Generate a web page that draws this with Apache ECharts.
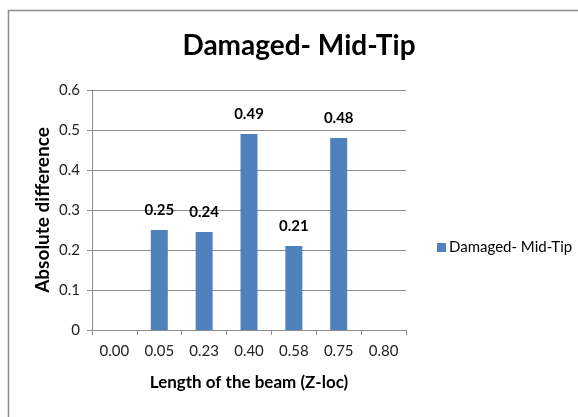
<!DOCTYPE html>
<html>
<head>
<meta charset="utf-8">
<script src="https://cdn.jsdelivr.net/npm/echarts@6/dist/echarts.min.js"></script>
<style>
  html, body { margin: 0; padding: 0; background: #fff; }
  #chart { width: 578px; height: 417px; }
</style>
</head>
<body>
<div id="chart"></div>
<script>
// Positions along the beam (Z-loc) and absolute difference at each
const categories = ['0.00', '0.05', '0.23', '0.40', '0.58', '0.75', '0.80'];
const values = [null, 0.25, 0.245, 0.49, 0.21, 0.48, null];
const seriesName = 'Damaged- Mid-Tip';

const font = 'Lato, "Open Sans", sans-serif';
const chart = echarts.init(document.getElementById('chart'), null, { renderer: 'canvas' });

chart.setOption({
  backgroundColor: '#fff',
  animation: false,
  graphic: [{
    type: 'rect',
    shape: { x: 8.5, y: 10.5, width: 600, height: 420 },
    style: { fill: 'none', stroke: '#8c8c8c', lineWidth: 1.5 },
    silent: true
  }],
  title: {
    text: 'Damaged- Mid-Tip',
    left: 294,
    textAlign: 'center',
    top: 27,
    textStyle: { fontFamily: font, fontWeight: 'bold', fontSize: 28, color: '#000' }
  },
  legend: {
    left: 432,
    top: 235,
    itemWidth: 9,
    itemHeight: 9,
    itemGap: 4,
    data: [{ name: seriesName, icon: 'rect' }],
    textStyle: { fontFamily: font, fontSize: 15, color: '#000', padding: [0, 0, 0, -2] }
  },
  grid: { left: 92, top: 90, width: 314, height: 240, containLabel: false },
  xAxis: {
    type: 'category',
    data: categories,
    name: 'Length of the beam (Z-loc)',
    nameLocation: 'middle',
    nameGap: 44,
    nameTextStyle: { fontFamily: font, fontWeight: 'bold', fontSize: 17, color: '#000' },
    axisLine: { lineStyle: { color: '#8c8c8c', width: 1 } },
    axisTick: { show: true, length: 5, lineStyle: { color: '#8c8c8c' } },
    axisLabel: { fontFamily: font, fontSize: 15, color: '#222', margin: 14 }
  },
  yAxis: {
    type: 'value',
    min: 0,
    max: 0.6,
    interval: 0.1,
    name: 'Absolute difference',
    nameLocation: 'middle',
    nameGap: 40,
    nameMoveOverlap: false,
    nameTextStyle: { fontFamily: font, fontWeight: 'bold', fontSize: 19, color: '#000' },
    axisLine: { show: true, lineStyle: { color: '#8c8c8c', width: 1 } },
    axisTick: { show: true, length: 5, inside: false, lineStyle: { color: '#8c8c8c' } },
    axisLabel: {
      fontFamily: font, fontSize: 15, color: '#222', margin: 12,
      formatter: v => (v === 0 ? '0' : v.toFixed(1))
    },
    splitLine: { lineStyle: { color: '#8c8c8c', width: 1 } }
  },
  series: [{
    name: seriesName,
    type: 'bar',
    data: values,
    barWidth: 17,
    itemStyle: { color: '#4f81bd' },
    label: {
      show: true,
      position: 'top',
      distance: 12,
      fontFamily: font,
      fontWeight: 'bold',
      fontSize: 15,
      color: '#000',
      formatter: p => p.value.toFixed(2)
    }
  }]
});
</script>
</body>
</html>
